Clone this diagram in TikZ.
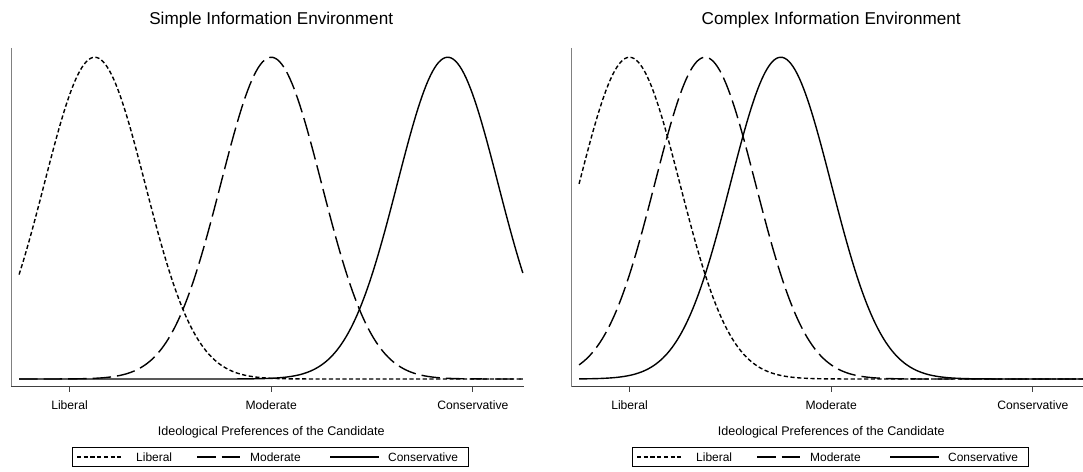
\documentclass[tikz,border=0pt]{standalone}
\usepackage{fontspec}
\setmainfont{Liberation Sans}
\begin{document}
\begin{tikzpicture}[x=1bp,y=-1bp,
  lib/.style={line width=1.4bp, dash pattern=on 4.2bp off 2.5bp},
  mod/.style={line width=1.4bp, dash pattern=on 18.5bp off 6bp},
  con/.style={line width=1.4bp},
  yax/.style={draw=black!50, line width=1bp},
  xax/.style={draw=black!75, line width=1bp},
  tickmark/.style={draw=black!75, line width=1bp},
  ttl/.style={font=\fontsize{17.2}{20}\selectfont, anchor=base, inner sep=0},
  ticklab/.style={font=\fontsize{12.2}{14}\selectfont, anchor=base, inner sep=0},
  axlab/.style={font=\fontsize{12.6}{14}\selectfont, anchor=base, inner sep=0},
  leglab/.style={font=\fontsize{12}{14}\selectfont, anchor=base west, inner sep=0},
  legbox/.style={draw=black, line width=0.9bp}]
\useasboundingbox (0,0) rectangle (1083,472);

% ---------------- Left panel ----------------
\node[ttl] (t1) at (271.2,24.2) {Simple Information Environment};
\coordinate (ya1) at (11,48);
\coordinate (o1) at (11,387);
\coordinate (xe1) at (523.5,387);
\draw[yax] (ya1) -- (o1);
\draw[xax] (o1) -- (xe1);
\foreach \tx in {69.5,271.2,472.9}{\draw[tickmark] (\tx,387) -- (\tx,392);}
\node[ticklab] (l1lib) at (69.5,409.6) {Liberal};
\node[ticklab] (l1mod) at (271.2,409.6) {Moderate};
\node[ticklab] (l1con) at (472.9,409.6) {Conservative};
\node[axlab] (ax1) at (271.2,435.3) {Ideological Preferences of the Candidate};
\draw[lib] plot[domain=-1.25:1.25, samples=241] ({271.2+201.7*\x},{379-321.7*exp(-8*(\x+0.875)*(\x+0.875))});
\draw[mod] plot[domain=-1.25:1.25, samples=241] ({271.2+201.7*\x},{379-321.7*exp(-8*(\x)*(\x))});
\draw[con] plot[domain=-1.25:1.25, samples=241] ({271.2+201.7*\x},{379-321.7*exp(-8*(\x-0.875)*(\x-0.875))});
% legend
\draw[legbox] (72.5,447.5) rectangle (468,466.5);
\draw[lib] (77,457) -- (123,457);
\node[leglab] (g1lib) at (136,461.3) {Liberal};
\draw[mod] (197,457) -- (241,457);
\node[leglab] (g1mod) at (250,461.3) {Moderate};
\draw[con] (330,457) -- (379,457);
\node[leglab] (g1con) at (388,461.3) {Conservative};

% ---------------- Right panel ----------------
\node[ttl] (t2) at (831.2,24.2) {Complex Information Environment};
\coordinate (ya2) at (571.5,48);
\coordinate (o2) at (571.5,387);
\coordinate (xe2) at (1083,387);
\draw[yax] (ya2) -- (o2);
\draw[xax] (o2) -- (xe2);
\foreach \tx in {629.5,831.2,1032.9}{\draw[tickmark] (\tx,387) -- (\tx,392);}
\node[ticklab] (l2lib) at (629.5,409.6) {Liberal};
\node[ticklab] (l2mod) at (831.2,409.6) {Moderate};
\node[ticklab] (l2con) at (1032.9,409.6) {Conservative};
\node[axlab] (ax2) at (831.2,435.3) {Ideological Preferences of the Candidate};
\draw[lib] plot[domain=-1.25:1.248, samples=241] ({831.2+201.7*\x},{379-321.7*exp(-8*(\x+1)*(\x+1))});
\draw[mod] plot[domain=-1.25:1.248, samples=241] ({831.2+201.7*\x},{379-321.7*exp(-8*(\x+0.625)*(\x+0.625))});
\draw[con] plot[domain=-1.25:1.248, samples=241] ({831.2+201.7*\x},{379-321.7*exp(-8*(\x+0.25)*(\x+0.25))});
% legend
\draw[legbox] (632.5,447.5) rectangle (1028,466.5);
\draw[lib] (637,457) -- (683,457);
\node[leglab] (g2lib) at (696,461.3) {Liberal};
\draw[mod] (757,457) -- (801,457);
\node[leglab] (g2mod) at (810,461.3) {Moderate};
\draw[con] (890,457) -- (939,457);
\node[leglab] (g2con) at (948,461.3) {Conservative};
\end{tikzpicture}
\end{document}
